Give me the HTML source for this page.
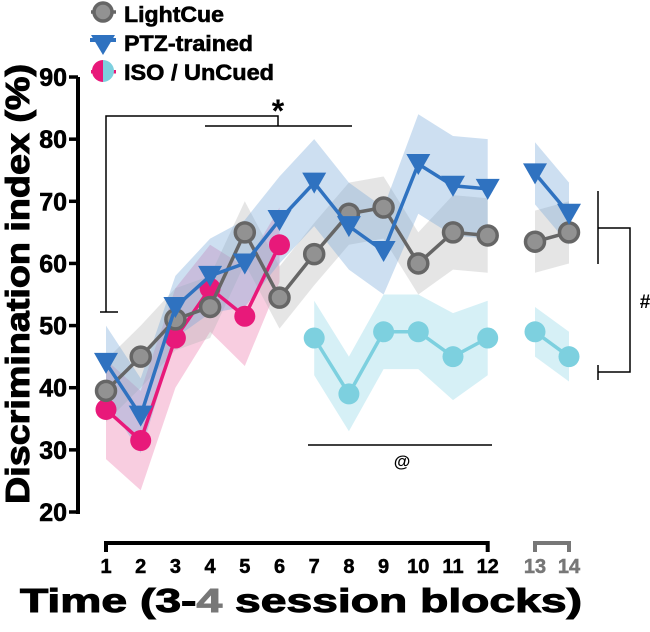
<!DOCTYPE html>
<html><head><meta charset="utf-8"><style>
body{margin:0;background:#fff;}
svg{font-family:"Liberation Sans",Arial,sans-serif;}
</style></head><body>
<svg id="chart" width="650" height="627" viewBox="0 0 650 627"></svg>
<script>
const sessions=[1,2,3,4,5,6,7,8,9,10,11,12,13,14];
const lightCue=[39.5,45,51,53,65,54.5,61.5,68,69,60,65,64.5,63.5,65];
const lightCueErr=[5,5,5,5,5,5,5,5,5,5,6,6,5,5];
const ptz=[44,35.5,53,58,60,67,73,66,62,76,72.5,72,74.5,68];
const ptzErr=[6,6,5,6,7,7,7,7,7,8,8,8,5,5];
const isoSessions=[1,2,3,4,5,6];
const iso=[36.5,31.5,48,56,51.5,63];
const isoErr=[8,8,8,7,8,6];
const unSessions=[7,8,9,10,11,12,13,14];
const uncued=[48,39,49,49,45,48,49,45];
const unErr=[6,6,6,6,7,6,4,4];
const yTicks=[20,30,40,50,60,70,80,90];

const svg=document.getElementById('chart');
const NS='http://www.w3.org/2000/svg';
function X(s){return s<=12?106+(s-1)*34.7:535+(s-13)*34;}
function Y(v){return 512-(v-20)*6.214;}
function el(tag,attrs,parent){const e=document.createElementNS(NS,tag);for(const k in attrs)e.setAttribute(k,attrs[k]);(parent||svg).appendChild(e);return e;}

function band(xs,ys,es,color,name){
  const segs=[[],[]];
  xs.forEach((s,i)=>{segs[s<=12?0:1].push(i);});
  segs.forEach(seg=>{if(seg.length<2)return;
    let d=seg.map((i,k)=>(k?'L':'M')+X(xs[i])+','+Y(ys[i]+es[i])).join('');
    d+=seg.slice().reverse().map(i=>'L'+X(xs[i])+','+Y(ys[i]-es[i])).join('')+'Z';
    const p=el('path',{d:d,fill:color,'fill-opacity':0.35});
    
    
  });
}
function line(xs,ys,color,name){
  const segs=[[],[]];
  xs.forEach((s,i)=>{segs[s<=12?0:1].push(i);});
  segs.forEach(seg=>{if(seg.length<2)return;
    const p=el('polyline',{points:seg.map(i=>X(xs[i])+','+Y(ys[i])).join(' '),fill:'none',stroke:color,'stroke-width':3.5});
    
    
  });
}
function circles(xs,ys,fill,stroke,name){
  xs.forEach((s,i)=>{const c=el('circle',{cx:X(s),cy:Y(ys[i]),r:stroke?9.5:10.5,fill:fill,stroke:stroke||'none','stroke-width':3.5});
    
    });
}
function tris(xs,ys,color,name){
  xs.forEach((s,i)=>{const x=X(s),y=Y(ys[i]);
    const p=el('path',{d:`M${x-12},${y-10}L${x+12},${y-10}L${x},${y+11}Z`,fill:color});
    
    });
}

band(isoSessions,iso,isoErr,'#ec6fa6','iso');
band(sessions,lightCue,lightCueErr,'#b5b5b5','lightcue');
band(sessions,ptz,ptzErr,'#6fa3d8','ptz');
band(unSessions,uncued,unErr,'#8ad3e6','uncued');
line(unSessions,uncued,'#7dd0df','uncued');
circles(unSessions,uncued,'#7dd0df',null,'uncued');
line(isoSessions,iso,'#e8197a','iso');
circles(isoSessions,iso,'#e8197a',null,'iso');
line(sessions,lightCue,'#666','lightcue');
circles(sessions,lightCue,'#929292','#666','lightcue');
line(sessions,ptz,'#2f72c0','ptz');
tris(sessions,ptz,'#2f72c0','ptz');

// y axis
let a=el('line',{x1:78,y1:Y(90),x2:78,y2:Y(20)+2,stroke:'#000','stroke-width':4});

yTicks.forEach(v=>{el('line',{x1:69,y1:Y(v),x2:78,y2:Y(v),stroke:'#000','stroke-width':3.5});
  const t=el('text',{x:67,y:Y(v)+9,'text-anchor':'end','font-size':25,'font-weight':'bold',stroke:'#000','stroke-width':0.6});t.textContent=v;
  });
const yt=el('text',{x:0,y:0,transform:'translate(29,284) rotate(-90)','text-anchor':'middle','font-size':33,'font-weight':'bold',stroke:'#000','stroke-width':1,textLength:440,lengthAdjust:'spacingAndGlyphs'});
yt.textContent='Discrimination index (%)';


// x axis
a=el('path',{d:`M${X(1)},552V543H${X(12)}V552`,fill:'none',stroke:'#000','stroke-width':4});

a=el('path',{d:`M${X(13)},552V543H${X(14)}V552`,fill:'none',stroke:'#777','stroke-width':4});

sessions.forEach(s=>{const t=el('text',{x:X(s),y:573,'text-anchor':'middle','font-size':20,'font-weight':'bold',stroke:s>12?'#777':'#000','stroke-width':0.5,fill:s>12?'#777':'#000'});t.textContent=s;
  });
const xt=el('text',{x:20,y:612,'font-size':33,'font-weight':'bold',stroke:'#000','stroke-width':1,textLength:562,lengthAdjust:'spacingAndGlyphs'});
xt.innerHTML='Time (3-<tspan fill="#777" stroke="#777">4</tspan> session blocks)';


// annotations
a=el('path',{d:'M100,312H118M106,312V116H278V126M205,126H352',fill:'none',stroke:'#000','stroke-width':1.5});

let t=el('text',{x:278,y:122,'text-anchor':'middle','font-size':32,'font-weight':'bold'});t.textContent='*';

a=el('line',{x1:308,y1:445,x2:492,y2:445,stroke:'#000','stroke-width':1.5});

t=el('text',{x:402,y:467,'text-anchor':'middle','font-size':17,'font-weight':'bold'});t.textContent='@';

a=el('path',{d:'M598,191V264M598,228H630V372H598M598,365V380',fill:'none',stroke:'#000','stroke-width':1.5});

t=el('text',{x:645,y:308,'text-anchor':'middle','font-size':19,'font-weight':'bold'});t.textContent='#';


// legend
const lg=el('g',{});
el('line',{x1:91,y1:12,x2:116,y2:12,stroke:'#666','stroke-width':3.5},lg);
el('circle',{cx:103,cy:12,r:9,fill:'#929292',stroke:'#666','stroke-width':3.5},lg);
el('line',{x1:90,y1:40,x2:116,y2:40,stroke:'#2f72c0','stroke-width':4},lg);
el('path',{d:'M91,35L115,35L103,55Z',fill:'#2f72c0'},lg);
el('rect',{x:91,y:70,width:25,height:3.5,fill:'#e8197a'},lg);
el('path',{d:'M103,60A11,11 0 0 0 103,82Z',fill:'#e8197a'},lg);
el('path',{d:'M103,60A11,11 0 0 1 103,82Z',fill:'#7dd0df'},lg);
[['LightCue',22,100],['PTZ-trained',51,129],['ISO / UnCued',80,150]].forEach(([s,y,w])=>{const tt=el('text',{x:124,y:y,'font-size':22,'font-weight':'bold',stroke:'#000','stroke-width':0.6,textLength:w,lengthAdjust:'spacingAndGlyphs'},lg);tt.textContent=s;
  });
</script>
</body></html>
